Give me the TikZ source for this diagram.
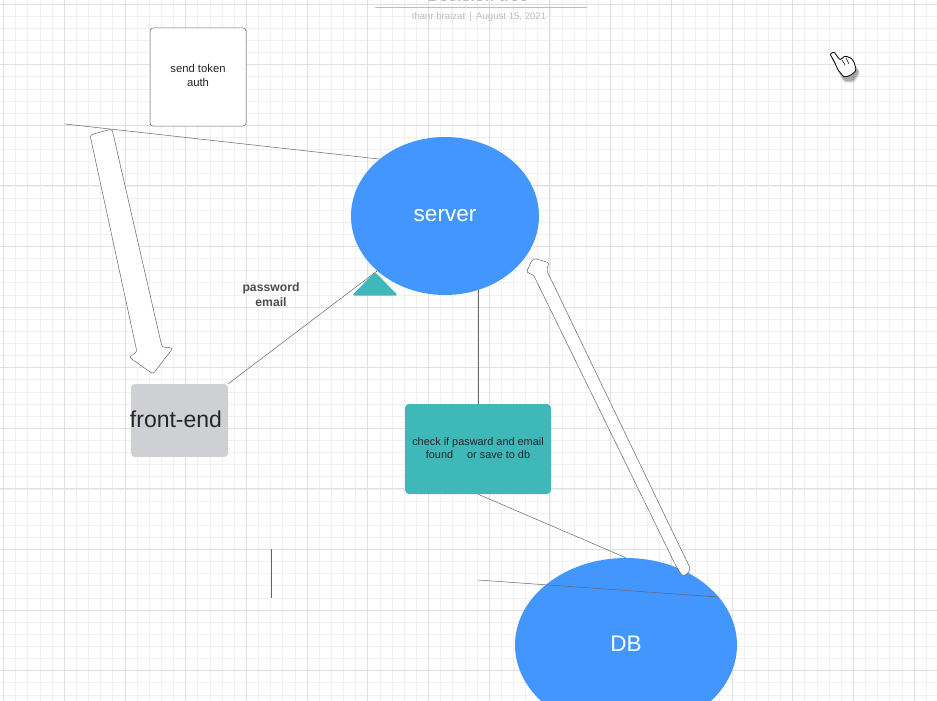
\documentclass[tikz,border=0pt]{standalone}
\usepackage{fontspec}
\setmainfont{Liberation Sans}
\usetikzlibrary{shapes.geometric}
\definecolor{serverblue}{HTML}{4496FF}
\definecolor{checkteal}{HTML}{3FB8B9}
\definecolor{frontgray}{HTML}{CED0D4}
\definecolor{linegray}{HTML}{666666}
\definecolor{titlegray}{HTML}{B9BEC9}
\tikzstyle{gridminor} = [draw=black!6, line width=0.6pt]
\tikzstyle{gridmajor} = [draw=black!12, line width=0.7pt]
\tikzstyle{blob} = [draw=none, ellipse, fill=serverblue, text=white, inner sep=0pt, font=\fontsize{22.5}{25}\selectfont]
\tikzstyle{wire} = [draw=linegray, line width=0.5pt]
\tikzstyle{bigarrow} = [draw=linegray, fill=white, line width=0.5pt, rounded corners=2.5pt]

\begin{document}
\begin{tikzpicture}[x=1pt, y=-1pt]
            \useasboundingbox (0,0) rectangle (937,701);
            \clip (0,0) rectangle (937,701);
            \fill[white] (0,0) rectangle (937,701);

            % Drawing grid
            \foreach \gx in {0,...,77} \draw[gridminor] ({3.5+12.14*\gx},0) -- ({3.5+12.14*\gx},701);
            \foreach \gy in {0,...,58} \draw[gridminor] (0,{4+12.12*\gy}) -- (937,{4+12.12*\gy});
            \foreach \gx in {0,...,15} \draw[gridmajor] ({3.5+60.7*\gx},0) -- ({3.5+60.7*\gx},701);
            \foreach \gy in {0,...,11} \draw[gridmajor] (0,{4+60.6*\gy}) -- (937,{4+60.6*\gy});

            % Defining nodes
            \node[text=titlegray, font=\fontsize{16}{19}\selectfont\bfseries] (Title) at (478,-4) {Decision tree};
            \node[text=titlegray, font=\fontsize{9.6}{11}\selectfont] (Byline) at (479,17) {thanr braizat \,|\, August 15, 2021};
            \node[draw=linegray, fill=white, rounded corners=3pt, line width=0.5pt, minimum width=96pt, minimum height=98pt, inner sep=0pt, align=center, text=black!85, font=\fontsize{11.3}{14}\selectfont] (Token) at (198,77) {\raisebox{4pt}{send token}\\\raisebox{4pt}{auth}};
            \node[blob, minimum width=188pt, minimum height=158pt] (Server) at (445,216) {server};
            \node[draw=none, fill=frontgray, rounded corners=4pt, minimum width=97pt, minimum height=73pt, inner sep=0pt, text=black!85, font=\fontsize{23}{26}\selectfont] (Front) at (179.5,420.5) {\hspace*{-7pt}\raisebox{2pt}{front-end}};
            \node[draw=none, fill=checkteal, rounded corners=4pt, minimum width=146pt, minimum height=90pt, inner sep=0pt] (Check) at (478,449) {};
            \node[align=center, text=black!85, inner sep=0pt, font=\fontsize{10.9}{13.5}\selectfont] (CheckText) at (478,448) {check if pasward and email\\found \quad or save to db};
            \node[blob, minimum width=222pt, minimum height=174pt] (DB) at (626,645) {\raisebox{3pt}{DB}};
            \node[align=center, text=black!70, font=\fontsize{12.2}{15}\selectfont\bfseries] (Creds) at (271,294.5) {password\\email};
            \coordinate (TokenEnd) at (65,124);
            \coordinate (DbStart) at (478,580);
            \coordinate (DbEnd) at (718,597);
            \coordinate (StubTop) at (271,549);
            \coordinate (StubEnd) at (271,598);

            % Drawing diagram
            \draw[titlegray, line width=0.7pt] (375,7) -- (587,7);
            \draw[wire] (TokenEnd) -- (Server.139);
            \draw[wire] (Front.north east) -- (Server.219);
            \draw[wire] (Server.294) -- (Server.294 |- Check.north);
            \draw[wire] (Check.south) -- (DB.north);
            \draw[wire] (DbStart) -- (DbEnd);
            \draw[wire] (StubTop) -- (StubEnd);

            % Teal marker and the two wide arrows
            \fill[checkteal, rounded corners=2.5pt] (352,295.5) -- (375,272) -- (398,295.5) -- cycle;
            \draw[bigarrow] (90,135) -- (112,129) -- (162,347) -- (173,348) -- (153,374) -- (129,357) -- (137,352) -- cycle;
            \draw[bigarrow, rounded corners=3.5pt] (676,566) -- (683,577) -- (691,570) -- (546,269) -- (550,263) -- (533,258) -- (526,273) -- (533,274) -- cycle;

            % Hand cursor
            \foreach \blur/\op in {3/0.08, 2/0.12, 1/0.18}
                \fill[black, opacity=\op, rounded corners=2pt] (831,57) -- (840,64) -- (852,62) -- (858+\blur,72) -- (852+\blur,80+\blur) -- (844,80+\blur) -- cycle;
            \draw[black, fill=white, line width=0.8pt, rounded corners=1pt] (830,54) -- (834,52) -- (840,60) -- (845,56) -- (851,58) -- (854,62) -- (856,69) -- (855,72) -- (849,76) -- (844,77) -- (838,70) -- (835,63) -- cycle;
            \draw[black, line width=0.5pt] (842,60) -- (845,65) (846,58) -- (849,64);
\end{tikzpicture}
\end{document}
